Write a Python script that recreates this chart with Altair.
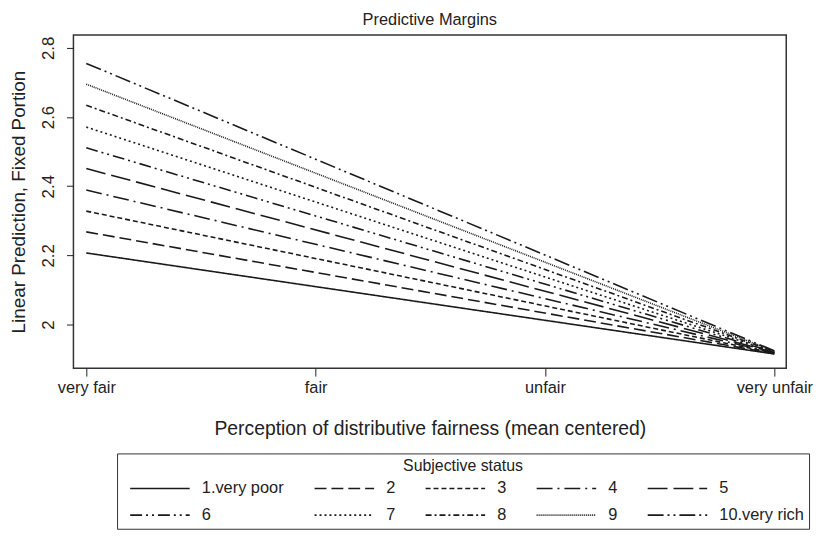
import altair as alt
import pandas as pd

# ---- data ----
series = ["1.very poor", "2", "3", "4", "5", "6", "7", "8", "9", "10.very rich"]
x_labels = ["very fair", "fair", "unfair", "very unfair"]
x_start = [1, 1, 1, 1, 1, 1, 1, 1, 1, 1]
x_end = [4, 4, 4, 4, 4, 4, 4, 4, 4, 4]
y_start = [2.207, 2.268, 2.328, 2.389, 2.451, 2.511, 2.571, 2.634, 2.695, 2.755]
y_end = [1.915, 1.916, 1.917, 1.918, 1.919, 1.920, 1.921, 1.922, 1.923, 1.924]
y_ticks = [2.0, 2.2, 2.4, 2.6, 2.8]

dashes = [
    [1, 0],                 # solid
    [12, 5],                # dash
    [5, 3],                 # short dash
    [16, 5, 2, 5],          # long dash dot
    [20, 6],                # long dash
    [12, 4, 2, 4, 2, 4],    # dash dot dot
    [2, 3],                 # dot
    [6, 3, 2, 3],           # short dash dot
    [1, 1],                 # fine dot
    [16, 4, 2, 4, 2, 4],    # long dash dot dot
]

rows = []
for s, xs, xe, ys, ye in zip(series, x_start, x_end, y_start, y_end):
    rows.append({"status": s, "x": xs, "y": ys})
    rows.append({"status": s, "x": xe, "y": ye})
df = pd.DataFrame(rows)

FONT = "Liberation Sans"
label_expr = "[" + ",".join("'" + l + "'" for l in x_labels) + "][datum.value - 1]"

chart = alt.Chart(df).mark_line(strokeWidth=1.6, color="#1a1a1a").encode(
    x=alt.X(
        "x:Q",
        scale=alt.Scale(domain=[0.944, 4.052], nice=False, zero=False),
        axis=alt.Axis(
            values=[1, 2, 3, 4],
            labelExpr=label_expr,
            title="Perception of distributive fairness (mean centered)",
            grid=False,
            domain=False,
            tickSize=8,
            tickColor="#222",
            labelPadding=4,
            titlePadding=23,
            labelFontSize=16.5,
            titleFontSize=19.5,
            labelFont=FONT,
            titleFont=FONT,
            titleFontWeight="normal",
            labelColor="#222",
            titleColor="#222",
        ),
    ),
    y=alt.Y(
        "y:Q",
        scale=alt.Scale(domain=[1.874, 2.837], nice=False, zero=False),
        axis=alt.Axis(
            values=y_ticks,
            format="~g",
            title="Linear Prediction, Fixed Portion",
            grid=False,
            domain=False,
            tickSize=7,
            tickColor="#222",
            labelAngle=270,
            labelAlign="center",
            labelBaseline="bottom",
            labelPadding=9,
            titlePadding=11,
            labelFontSize=17,
            titleFontSize=19,
            labelFont=FONT,
            titleFont=FONT,
            titleFontWeight="normal",
            labelColor="#222",
            titleColor="#222",
        ),
    ),
    strokeDash=alt.StrokeDash(
        "status:N",
        scale=alt.Scale(domain=series, range=dashes),
        legend=alt.Legend(
            title="Subjective status",
            orient="none",
            legendX=44,
            legendY=422,
            direction="horizontal",
            columns=5,
            symbolType="M0,0H10",
            symbolSize=144,
            symbolStrokeWidth=1.6,
            symbolStrokeColor="#1a1a1a",
            symbolFillColor="transparent",
            labelFont=FONT,
            labelFontSize=16.5,
            labelColor="#222",
            labelOffset=64,
            labelLimit=200,
            titleFont=FONT,
            titleFontSize=16,
            titleFontWeight="normal",
            titleColor="#222",
            titleAnchor="middle",
            titlePadding=6,
            columnPadding=22,
            rowPadding=10,
            padding=5,
            strokeColor="#333",
            fillColor="white",
        ),
    ),
    detail="status:N",
).properties(
    width=719,
    height=336,
    title=alt.TitleParams(
        "Predictive Margins",
        font=FONT,
        fontSize=16.5,
        fontWeight="normal",
        color="#222",
        anchor="middle",
        offset=7,
    ),
    autosize=alt.AutoSizeParams(type="none"),
    padding={"left": 66, "top": 25, "right": 28, "bottom": 164},
).configure_view(stroke="#333", strokeWidth=1.5)

chart.save("out.html", embed_options={"renderer": "svg", "actions": False})
